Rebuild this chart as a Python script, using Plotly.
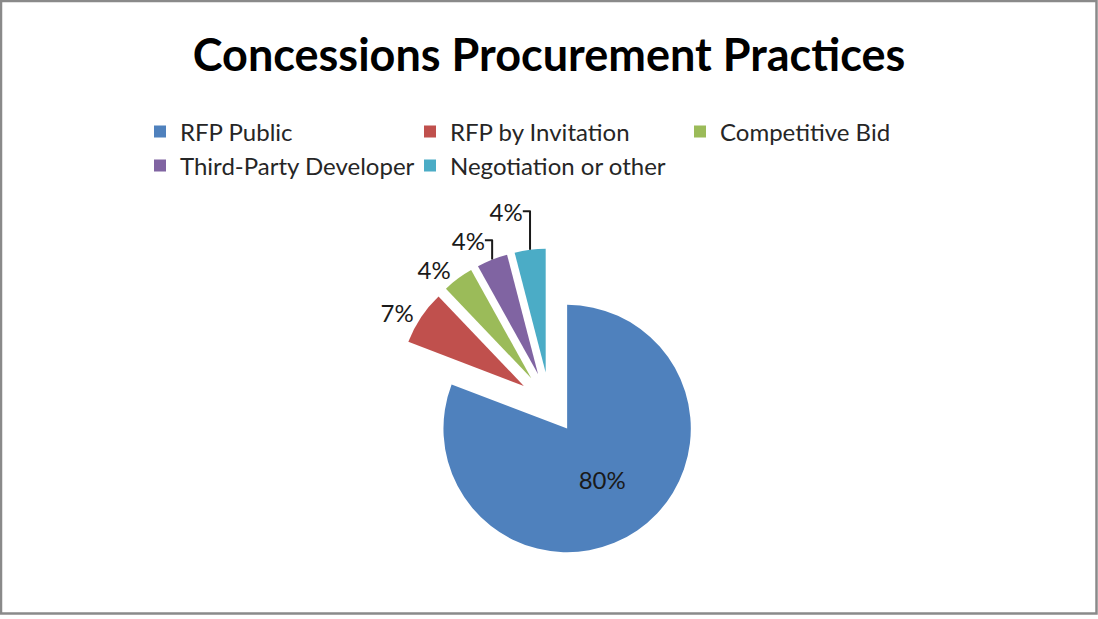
import plotly.graph_objects as go

categories = ["RFP Public", "RFP by Invitation", "Competitive Bid",
              "Third-Party Developer", "Negotiation or other"]
values = [80, 7, 4, 4, 4]
colors = ["#4F81BD", "#C0504D", "#9BBB59", "#8064A2", "#4BACC6"]
title_text = "Concessions Procurement Practices"

W, H = 1098, 619
ML, MR = 80, 80          # side margins (plot area 938 px wide)
PW = W - ML - MR
FONT = "Lato, Carlito, Calibri, sans-serif"


def px(x):
    """pixel x -> paper x"""
    return (x - ML) / PW


def py(y):
    """pixel y (from top) -> paper y"""
    return 1 - y / H


fig = go.Figure(go.Pie(
    labels=categories,
    values=values,
    sort=False,
    direction="clockwise",
    rotation=0,
    pull=[0.25] * len(values),
    marker=dict(colors=colors, line=dict(width=0)),
    texttemplate="%{value}%",
    textposition=["inside", "outside", "outside", "outside", "outside"],
    insidetextorientation="horizontal",
    insidetextfont=dict(color="#1a1a1a", size=24, family=FONT),
    outsidetextfont=dict(color="#1a1a1a", size=24, family=FONT),
    domain=dict(x=[px(394), px(705.2)], y=[py(561.3), py(250.1)]),
    hoverinfo="label+value",
))

fig.update_layout(
    width=W, height=H,
    margin=dict(l=ML, r=MR, t=0, b=0),
    paper_bgcolor="white",
    plot_bgcolor="white",
    title=dict(text="<b>" + title_text + "</b>", x=0.5, xanchor="center",
               y=1 - 55 / H, yanchor="middle",
               font=dict(size=45, color="black", family=FONT)),
    legend=dict(orientation="h", x=px(140), xanchor="left",
                y=py(110), yanchor="top",
                entrywidth=225, entrywidthmode="pixels",
                font=dict(size=24, color="#262626", family=FONT),
                bgcolor="rgba(0,0,0,0)", traceorder="normal"),
    shapes=[dict(type="rect", xref="paper", yref="paper",
                 x0=px(1), x1=px(W - 1.5), y0=py(H - 1.5), y1=py(1),
                 line=dict(color="#8a8a8a", width=2.5), layer="above")],
)

fig.write_html("out.html")
